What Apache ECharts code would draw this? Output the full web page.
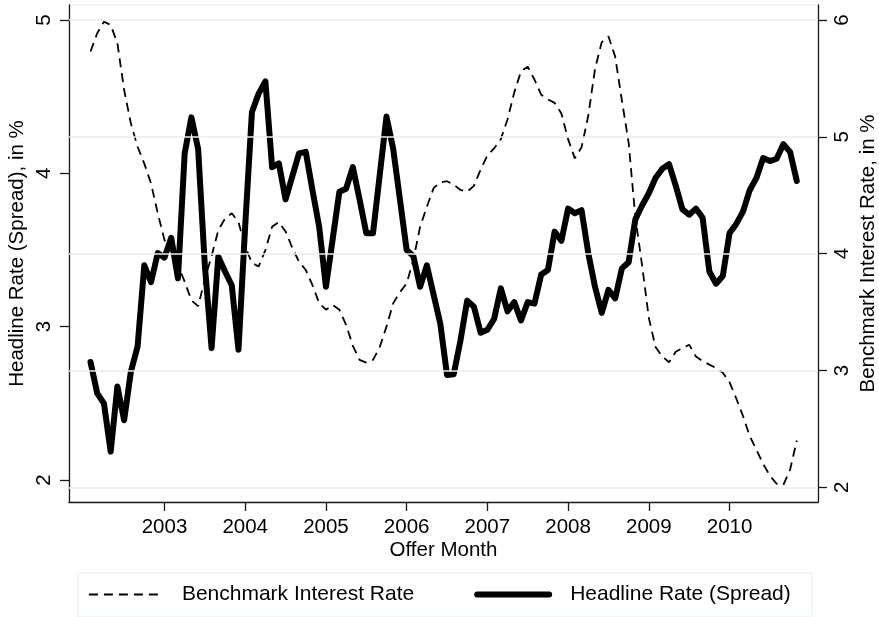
<!DOCTYPE html>
<html><head><meta charset="utf-8">
<script src="https://cdn.jsdelivr.net/npm/echarts@6/dist/echarts.min.js"></script>
<style>html,body{margin:0;padding:0;background:#fff}#c{width:879px;height:617px}</style>
</head><body><div id="c"></div>
<script>
// Monthly observations, Feb 2002 .. Nov 2010
const startYear = 2002, startMonth = 2;
const headline = [
  2.77, 2.565, 2.50, 2.185, 2.61, 2.39, 2.706, 2.87, 3.40, 3.29, 3.48,
  3.45, 3.58, 3.315, 4.13, 4.365, 4.16, 3.40, 2.86, 3.456, 3.36, 3.27, 2.85,
  3.66, 4.40, 4.52, 4.60, 4.04, 4.065, 3.83, 3.98, 4.13, 4.14, 3.89, 3.65,
  3.26, 3.57, 3.88, 3.90, 4.04, 3.83, 3.61, 3.61, 3.99, 4.37, 4.16, 3.83,
  3.50, 3.46, 3.26, 3.40, 3.21, 3.02, 2.685, 2.69, 2.91, 3.17, 3.13, 2.96,
  2.98, 3.05, 3.25, 3.10, 3.16, 3.04, 3.16, 3.15, 3.34, 3.37, 3.62, 3.56,
  3.77, 3.74, 3.76, 3.48, 3.26, 3.09, 3.24, 3.185, 3.38, 3.42, 3.70, 3.79,
  3.87, 3.97, 4.03, 4.06, 3.92, 3.765, 3.73, 3.77, 3.71, 3.36, 3.28, 3.33,
  3.61, 3.67, 3.75, 3.89, 3.97, 4.10, 4.08, 4.095, 4.19, 4.14, 3.95
];
const benchmark = [
  5.73, 5.886, 5.985, 5.957, 5.80, 5.40, 5.115, 4.915, 4.77, 4.60, 4.345,
  4.117, 4.02, 3.90, 3.76, 3.60, 3.55, 3.78, 3.98, 4.20, 4.30, 4.345, 4.27,
  4.06, 3.92, 3.89, 4.03, 4.23, 4.27, 4.19, 4.05, 3.93, 3.86, 3.73, 3.575,
  3.52, 3.56, 3.52, 3.39, 3.21, 3.09, 3.067, 3.09, 3.20, 3.375, 3.575, 3.67,
  3.746, 3.946, 4.23, 4.40, 4.56, 4.61, 4.62, 4.59, 4.545, 4.53, 4.58, 4.72,
  4.84, 4.90, 4.98, 5.15, 5.38, 5.56, 5.60, 5.49, 5.36, 5.32, 5.29, 5.20,
  4.98, 4.815, 4.91, 5.18, 5.58, 5.81, 5.86, 5.686, 5.31, 4.95, 4.31, 3.90,
  3.45, 3.20, 3.12, 3.07, 3.16, 3.19, 3.22, 3.12, 3.08, 3.05, 3.02, 2.98,
  2.90, 2.76, 2.61, 2.44, 2.32, 2.20, 2.10, 2.03, 2.02, 2.15, 2.40
];
const xTicks = [2003, 2004, 2005, 2006, 2007, 2008, 2009, 2010];
const leftTicks = [2, 3, 4, 5];
const rightTicks = [2, 3, 4, 5, 6];

function monthX(i) { return startYear + (startMonth - 1 + i) / 12; }
const headSeries = headline.map((v, i) => [monthX(i), v]);
const benchSeries = benchmark.map((v, i) => [monthX(i), v]);

const FONT = 'Liberation Sans, Arial, Helvetica, sans-serif';
const AX = '#1a1a1a';
const GRID = '#e6eef1';

const chart = echarts.init(document.getElementById('c'), null, {renderer: 'canvas'});
chart.setOption({
  animation: false,
  backgroundColor: '#fff',
  textStyle: {fontFamily: FONT, color: '#000'},
  grid: {left: 69, right: 61, top: 5, bottom: 115, show: true, borderColor: GRID, borderWidth: 1,
         backgroundColor: '#fff', containLabel: false, outerBoundsMode: 'none'},
  xAxis: {
    type: 'value', min: 2001.817, max: 2011.096,
    name: 'Offer Month', nameLocation: 'middle', nameGap: 38, nameMoveOverlap: false,
    nameTextStyle: {fontSize: 20.5, color: '#000', fontFamily: FONT},
    axisLine: {show: true, lineStyle: {color: AX, width: 1.3}},
    axisTick: {show: true, length: 9, lineStyle: {color: AX, width: 1.3}, customValues: xTicks},
    axisLabel: {fontSize: 20.5, color: '#000', margin: 15, fontFamily: FONT, customValues: xTicks, formatter: v => String(v)},
    splitLine: {show: false}
  },
  yAxis: [
    {
      type: 'value', position: 'left', min: 1.8565, max: 5.0978,
      name: 'Headline Rate (Spread), in %', nameLocation: 'middle', nameGap: 41, nameRotate: 90, nameMoveOverlap: false,
      nameTextStyle: {fontSize: 20.5, color: '#000', fontFamily: FONT},
      axisLine: {show: true, lineStyle: {color: AX, width: 1.3}},
      axisTick: {show: true, length: 9, lineStyle: {color: AX, width: 1.3}, customValues: leftTicks},
      axisLabel: {fontSize: 20.5, color: '#000', margin: 14, rotate: 90, fontFamily: FONT, customValues: leftTicks, formatter: v => String(v)},
      splitLine: {show: false}
    },
    {
      type: 'value', position: 'right', min: 1.874, max: 6.128,
      name: 'Benchmark Interest Rate, in %', nameLocation: 'middle', nameGap: 40, nameRotate: 90, nameMoveOverlap: false,
      nameTextStyle: {fontSize: 20.5, color: '#000', fontFamily: FONT},
      axisLine: {show: true, lineStyle: {color: AX, width: 1.3}},
      axisTick: {show: true, length: 9, lineStyle: {color: AX, width: 1.3}, customValues: rightTicks},
      axisLabel: {fontSize: 20.5, color: '#000', margin: 14, rotate: 90, fontFamily: FONT, customValues: rightTicks, formatter: v => String(v)},
      splitLine: {show: false}
    }
  ],
  legend: {
    data: [
      {name: 'Benchmark Interest Rate', itemStyle: {opacity: 0}, lineStyle: {width: 1.8, type: [9, 6], color: '#000'}},
      {name: 'Headline Rate (Spread)', itemStyle: {opacity: 0}, lineStyle: {width: 6, type: 'solid', color: '#000'}}
    ],
    top: 573, left: 78,
    itemWidth: 72, itemHeight: 14, itemGap: 60,
    padding: [11, 21, 12, 10],
    borderColor: GRID, borderWidth: 1,
    textStyle: {fontSize: 21, color: '#000', fontFamily: FONT, padding: [0, 0, 0, 16]}
  },
  series: [
    {
      name: 'gridlines', type: 'line', yAxisIndex: 1, data: [], z: 1, silent: true,
      markLine: {
        silent: true, symbol: 'none', label: {show: false}, animation: false,
        lineStyle: {color: GRID, type: 'solid', width: 1.5},
        data: rightTicks.map(v => ({yAxis: v}))
      }
    },
    {
      name: 'Benchmark Interest Rate', type: 'line', yAxisIndex: 1, data: benchSeries,
      symbol: 'none', smooth: false, z: 3,
      lineStyle: {color: '#000', width: 1.8, type: [9, 6]},
      itemStyle: {color: '#000'}
    },
    {
      name: 'Headline Rate (Spread)', type: 'line', yAxisIndex: 0, data: headSeries,
      symbol: 'none', smooth: false, z: 4,
      lineStyle: {color: '#000', width: 6, join: 'round', cap: 'round'},
      itemStyle: {color: '#000'}
    }
  ]
});
</script>
</body></html>
